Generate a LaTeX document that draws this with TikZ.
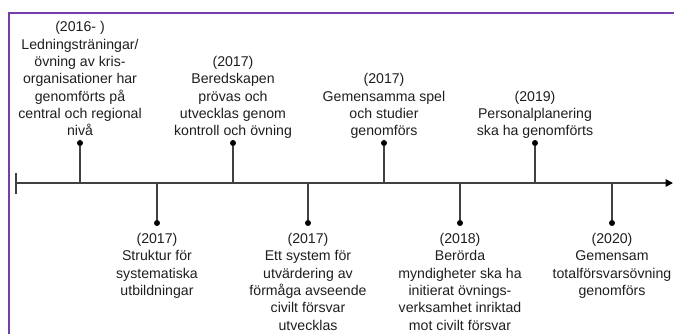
\documentclass[tikz,border=0pt]{standalone}
\usepackage{fontspec}
\setmainfont{Liberation Sans}
\usetikzlibrary{arrows.meta}
\definecolor{frame}{RGB}{118,62,168}
\definecolor{linegray}{RGB}{64,64,64}
\definecolor{txt}{RGB}{30,30,30}
\begin{document}
\begin{tikzpicture}[x=0.75pt,y=-0.75pt,
  evtext/.style={align=center,inner sep=0pt,text=txt,font=\fontsize{10.6}{13}\selectfont},
  uptext/.style={evtext,anchor=south,text depth=0pt},
  lowtext/.style={evtext,anchor=north},
  dotnode/.style={circle,fill=black,inner sep=0pt,minimum size=4.5pt},
  stem/.style={draw=linegray,line width=1.1pt},
  axisline/.style={draw=linegray,line width=1.1pt,-{Triangle[length=5.5pt,width=5.5pt,color=black]}},
  border/.style={draw=frame,line width=1.5pt}]
\useasboundingbox (0,0) rectangle (674,334);
% frame
\coordinate (fa) at (9,334);
\coordinate (fb) at (9,13);
\coordinate (fc) at (674,13);
\draw[border] (fa) -- (fb) -- (fc);
% axis
\coordinate (a0) at (16,183);
\coordinate (aend) at (673,183);
\coordinate (lt1) at (16,173);
\coordinate (lt2) at (16,194);
\draw[axisline] (a0) -- (aend);
\draw[draw=linegray,line width=1.6pt] (lt1) -- (lt2);
% upper events
\foreach \n/\x in {u1/80,u2/233,u3/384,u4/535}{
  \coordinate (\n a) at (\x,183);
  \node[dotnode] (\n d) at (\x,143) {};
  \draw[stem] (\n a) -- (\n d);
}
\foreach \n/\x in {l1/157,l2/308,l3/460,l4/612}{
  \coordinate (\n a) at (\x,183);
  \node[dotnode] (\n d) at (\x,223) {};
  \draw[stem] (\n a) -- (\n d);
}
\node[uptext] (t1) at (80,136) {(2016- )\\Ledningsträningar/\\övning av kris-\\organisationer har\\genomförts på\\central och regional\\nivå};
\node[uptext] (t2) at (233,136) {(2017)\\Beredskapen\\prövas och\\utvecklas genom\\kontroll och övning};
\node[uptext] (t3) at (384,136) {(2017)\\Gemensamma spel\\och studier\\genomförs};
\node[uptext] (t4) at (535,136) {(2019)\\Personalplanering\\ska ha genomförts};
\node[lowtext] (b1) at (157,233) {(2017)\\Struktur för\\systematiska\\utbildningar};
\node[lowtext] (b2) at (308,233) {(2017)\\Ett system för\\utvärdering av\\förmåga avseende\\civilt försvar\\utvecklas};
\node[lowtext] (b3) at (460,233) {(2018)\\Berörda\\myndigheter ska ha\\initierat övnings-\\verksamhet inriktad\\mot civilt försvar};
\node[lowtext] (b4) at (612,233) {(2020)\\Gemensam\\totalförsvarsövning\\genomförs};
\end{tikzpicture}
\end{document}
